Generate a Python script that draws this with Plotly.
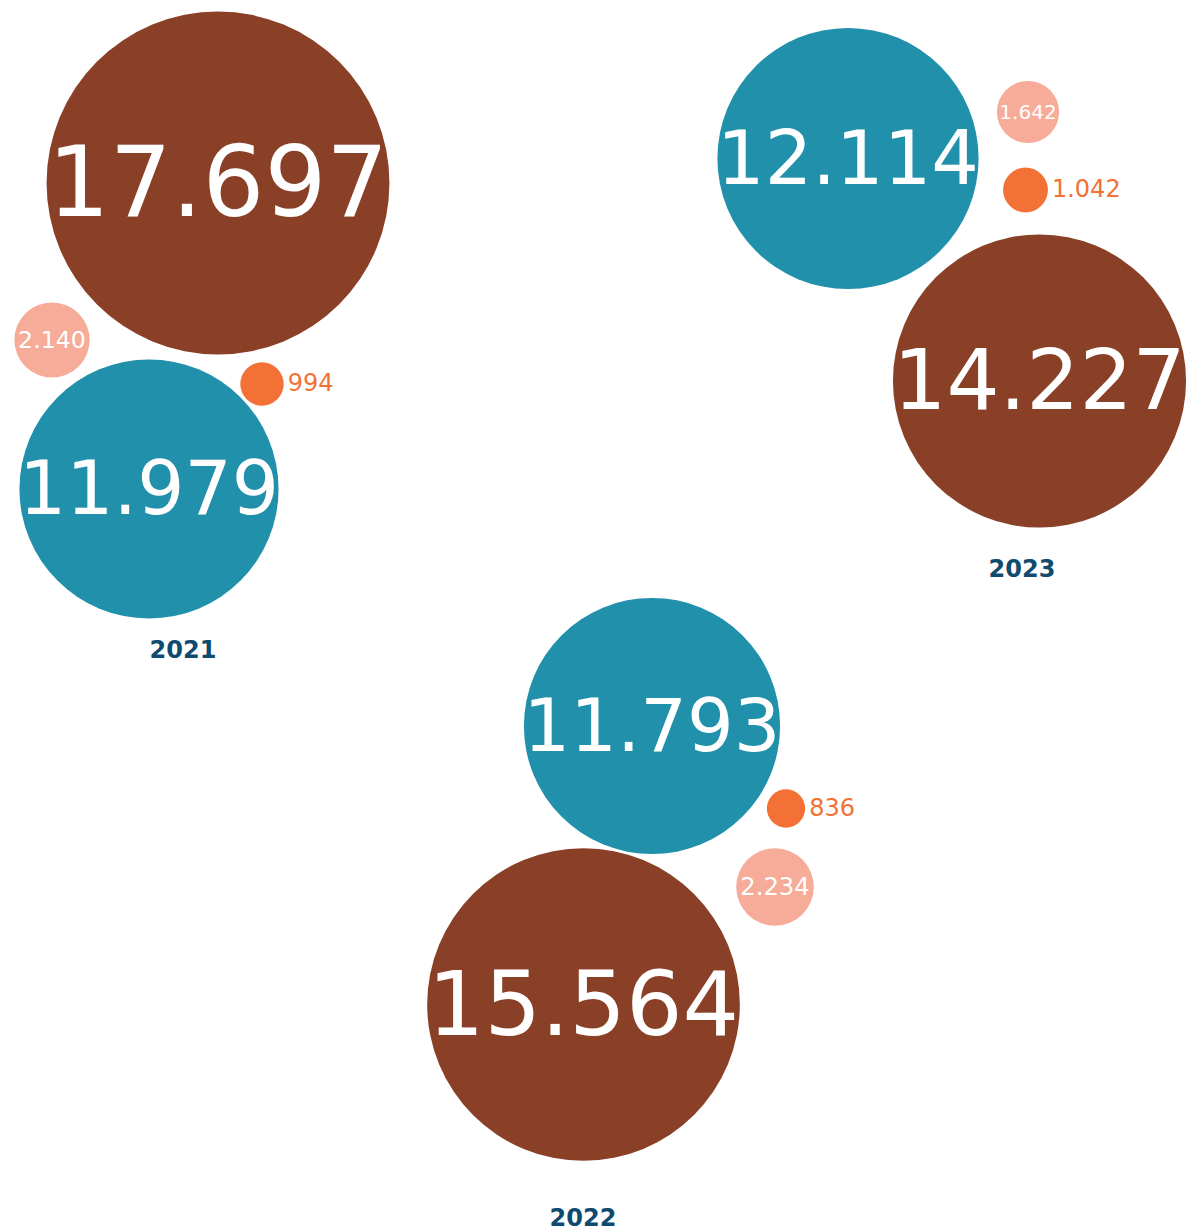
import plotly.graph_objects as go

# ---------------- data ----------------
years = ["2021", "2022", "2023"]
categories = ["A", "B", "C", "D"]
values_2021 = [17697, 11979, 2140, 994]
values_2022 = [15564, 11793, 2234, 836]
values_2023 = [14227, 12114, 1642, 1042]
values_by_year = {"2021": values_2021, "2022": values_2022, "2023": values_2023}

# ---------------- styles ----------------
colors = {"A": "#8A3F27", "B": "#2190AA", "C": "#F7AB99", "D": "#F37135"}
year_color = "#0F4B6E"
FONT = "DejaVu Sans"

# ---------------- layout (bubble centres, canvas px) ----------------
centres = {
    "2021": {"A": (218, 183), "B": (149, 489), "C": (52, 340), "D": (262, 384)},
    "2022": {"A": (583.5, 1004.5), "B": (652, 726), "C": (775, 887), "D": (786, 808.5)},
    "2023": {"A": (1039.5, 381), "B": (848, 158.5), "C": (1028, 112), "D": (1025.5, 190)},
}
year_label_pos = {"2021": (183, 651), "2022": (583, 1219), "2023": (1022, 570)}
W, H = 1189, 1232


def radius(v):
    # power scale fitted to the reference bubbles
    return 0.1528 * v ** 0.718


def fmt(v):
    return f"{v:,}".replace(",", ".")


fig = go.Figure()

for yr in years:
    vals = values_by_year[yr]
    xs = [centres[yr][c][0] for c in categories]
    ys = [centres[yr][c][1] for c in categories]
    rs = [radius(v) for v in vals]
    fig.add_trace(go.Scatter(
        x=xs, y=ys, mode="markers",
        marker=dict(size=[2 * r for r in rs], sizemode="diameter", sizeref=1,
                    color=[colors[c] for c in categories], line=dict(width=0), opacity=1),
        hoverinfo="skip", cliponaxis=False, showlegend=False,
    ))
    # inside labels
    ins = [i for i, v in enumerate(vals) if v >= 1500]
    fsz = [0.55 * rs[i] + 3 for i in ins]
    fig.add_trace(go.Scatter(
        x=[xs[i] for i in ins], y=[ys[i] + 0.09 * f for i, f in zip(ins, fsz)], mode="text",
        text=[fmt(vals[i]) for i in ins], textposition="middle center",
        textfont=dict(family=FONT, color="white", size=fsz),
        hoverinfo="skip", cliponaxis=False, showlegend=False,
    ))
    # outside labels
    outs = [i for i, v in enumerate(vals) if v < 1500]
    fig.add_trace(go.Scatter(
        x=[xs[i] + rs[i] + 4 for i in outs], y=[ys[i] + 1 for i in outs], mode="text",
        text=[fmt(vals[i]) for i in outs], textposition="middle right",
        textfont=dict(family=FONT, color=colors["D"], size=24),
        hoverinfo="skip", cliponaxis=False, showlegend=False,
    ))
    lx, ly = year_label_pos[yr]
    fig.add_trace(go.Scatter(
        x=[lx], y=[ly + 1], mode="text", text=[f"<b>{yr}</b>"], textposition="middle center",
        textfont=dict(family=FONT, color=year_color, size=24),
        hoverinfo="skip", cliponaxis=False, showlegend=False,
    ))

fig.update_layout(
    width=W, height=H, autosize=False,
    margin=dict(l=0, r=0, t=0, b=0, pad=0),
    paper_bgcolor="white", plot_bgcolor="white",
    xaxis=dict(range=[0, W], visible=False, fixedrange=True),
    yaxis=dict(range=[H, 0], visible=False, fixedrange=True),
    showlegend=False,
)

fig.write_html(
    "out.html",
    config={"displayModeBar": False},
    post_script="document.body.style.margin='0';document.body.style.overflow='hidden';",
)
